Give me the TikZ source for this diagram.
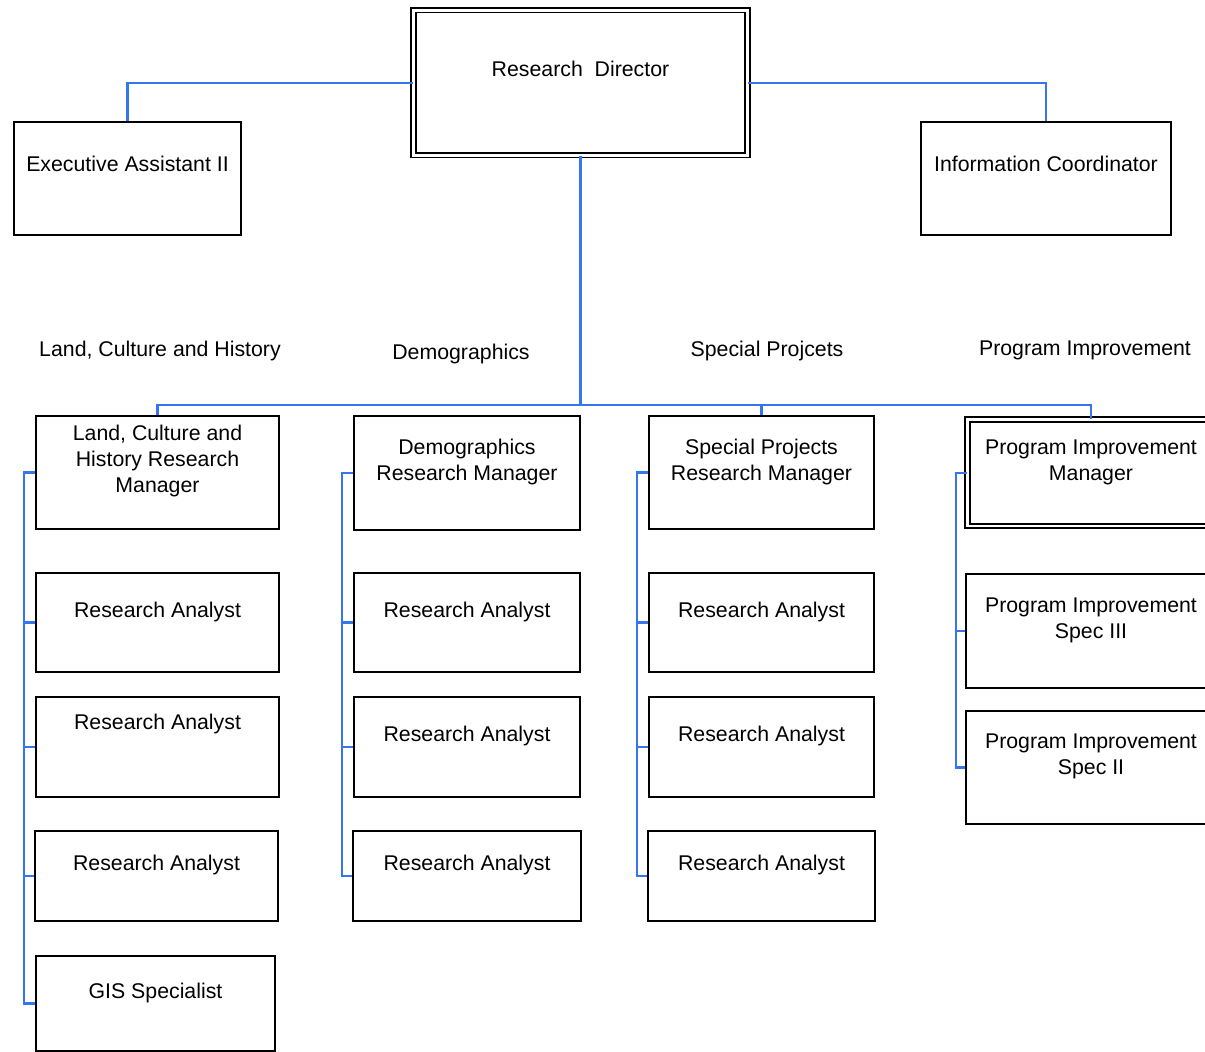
\documentclass[tikz,border=0pt]{standalone}
\usepackage{fontspec}
\setmainfont{Liberation Sans}
\usetikzlibrary{positioning}
\definecolor{wire}{RGB}{52,118,240}

\begin{document}
\begin{tikzpicture}[x=1pt, y=-1pt, font=\fontsize{21.3}{26}\selectfont,
  post/.style={draw, line width=1.6pt, inner sep=0pt},
  chief/.style={draw, double, double distance=2.8pt, line width=1.7pt, inner sep=0pt},
  role/.style={anchor=north, align=center, inner sep=0pt},
  link/.style={draw=wire, line width=2.1pt}]
  \useasboundingbox (0,0) rectangle (1205,1052);

  \draw (580.5,82.6) node[chief, minimum width=334, minimum height=145, label={[role, yshift=-52]north:Research~~Director}](dir) {};
  \draw (127.5,178.5) node[post, minimum width=227, minimum height=113, label={[role, yshift=-35]north:Executive Assistant II}](exa) {};
  \draw (1046,178.5) node[post, minimum width=250, minimum height=113, label={[role, yshift=-35]north:Information Coordinator}](inf) {};

  \draw (160,350.5) node(lchhead) {Land, Culture and History};
  \draw (461,353.5) node(demhead) {Demographics};
  \draw (767,350.5) node(sphead) {Special Projcets};
  \draw (1085,350.5) node(pihead) {Program Improvement};

  \draw (157.5,472.5) node[post, minimum width=243, minimum height=113, label={[role, yshift=-10]north:{Land, Culture and\\History Research\\Manager}}](lchm) {};
  \draw (157.5,622.5) node[post, minimum width=243, minimum height=99, label={[role, yshift=-30]north:Research Analyst}](ra11) {};
  \draw (157.5,747) node[post, minimum width=243, minimum height=100, label={[role, yshift=-18]north:Research Analyst}](ra12) {};
  \draw (156.5,876) node[post, minimum width=243, minimum height=90, label={[role, yshift=-25]north:Research Analyst}](ra13) {};
  \draw (155.5,1003.5) node[post, minimum width=239, minimum height=95, label={[role, yshift=-28]north:GIS Specialist}](gis) {};

  \draw (467,473) node[post, minimum width=226, minimum height=114, label={[role, yshift=-24]north:{Demographics\\Research Manager}}](dmm) {};
  \draw (467,622.5) node[post, minimum width=226, minimum height=99, label={[role, yshift=-30]north:Research Analyst}](ra21) {};
  \draw (467,747) node[post, minimum width=226, minimum height=100, label={[role, yshift=-30]north:Research Analyst}](ra22) {};
  \draw (467,876) node[post, minimum width=228, minimum height=90, label={[role, yshift=-25]north:Research Analyst}](ra23) {};

  \draw (761.5,472.5) node[post, minimum width=225, minimum height=113, label={[role, yshift=-24]north:{Special Projects\\Research Manager}}](spm) {};
  \draw (761.5,622.5) node[post, minimum width=225, minimum height=99, label={[role, yshift=-30]north:Research Analyst}](ra31) {};
  \draw (761.5,747) node[post, minimum width=225, minimum height=100, label={[role, yshift=-30]north:Research Analyst}](ra32) {};
  \draw (761.5,876) node[post, minimum width=227, minimum height=90, label={[role, yshift=-25]north:Research Analyst}](ra33) {};

  \draw (1091,472.8) node[chief, minimum width=247, minimum height=106.5, label={[role, yshift=-20.5]north:{Program Improvement\\Manager}}](pim) {};
  \draw (1091,631) node[post, minimum width=250, minimum height=114, label={[role, yshift=-24]north:{Program Improvement\\Spec III}}](pis3) {};
  \draw (1091,767.5) node[post, minimum width=250, minimum height=113, label={[role, yshift=-23]north:{Program Improvement\\Spec II}}](pis2) {};

  \coordinate (hub) at (580.5,405);

  \draw[link] (dir.west) -| (exa.north);
  \draw[link] (dir.east) -| (inf.north);
  \draw[link] (dir.south) -- (hub);
  \draw[link] (lchm.north) |- (hub) -| (pim.north);
  \draw[link] (hub) -| (spm.north);

  \draw[link] (lchm.west) -- ++(-11,0) |- (ra11.west);
  \draw[link] (lchm.west) -- ++(-11,0) |- (ra12.west);
  \draw[link] (lchm.west) -- ++(-11,0) |- (ra13.west);
  \draw[link] (lchm.west) -- ++(-11,0) |- (gis.west);

  \draw[link] (dmm.west) -- ++(-11,0) |- (ra21.west);
  \draw[link] (dmm.west) -- ++(-11,0) |- (ra22.west);
  \draw[link] (dmm.west) -- ++(-11,0) |- (ra23.west);

  \draw[link] (spm.west) -- ++(-11,0) |- (ra31.west);
  \draw[link] (spm.west) -- ++(-11,0) |- (ra32.west);
  \draw[link] (spm.west) -- ++(-11,0) |- (ra33.west);

  \draw[link] (pim.west) -- ++(-11,0) |- (pis3.west);
  \draw[link] (pim.west) -- ++(-11,0) |- (pis2.west);
\end{tikzpicture}
\end{document}
